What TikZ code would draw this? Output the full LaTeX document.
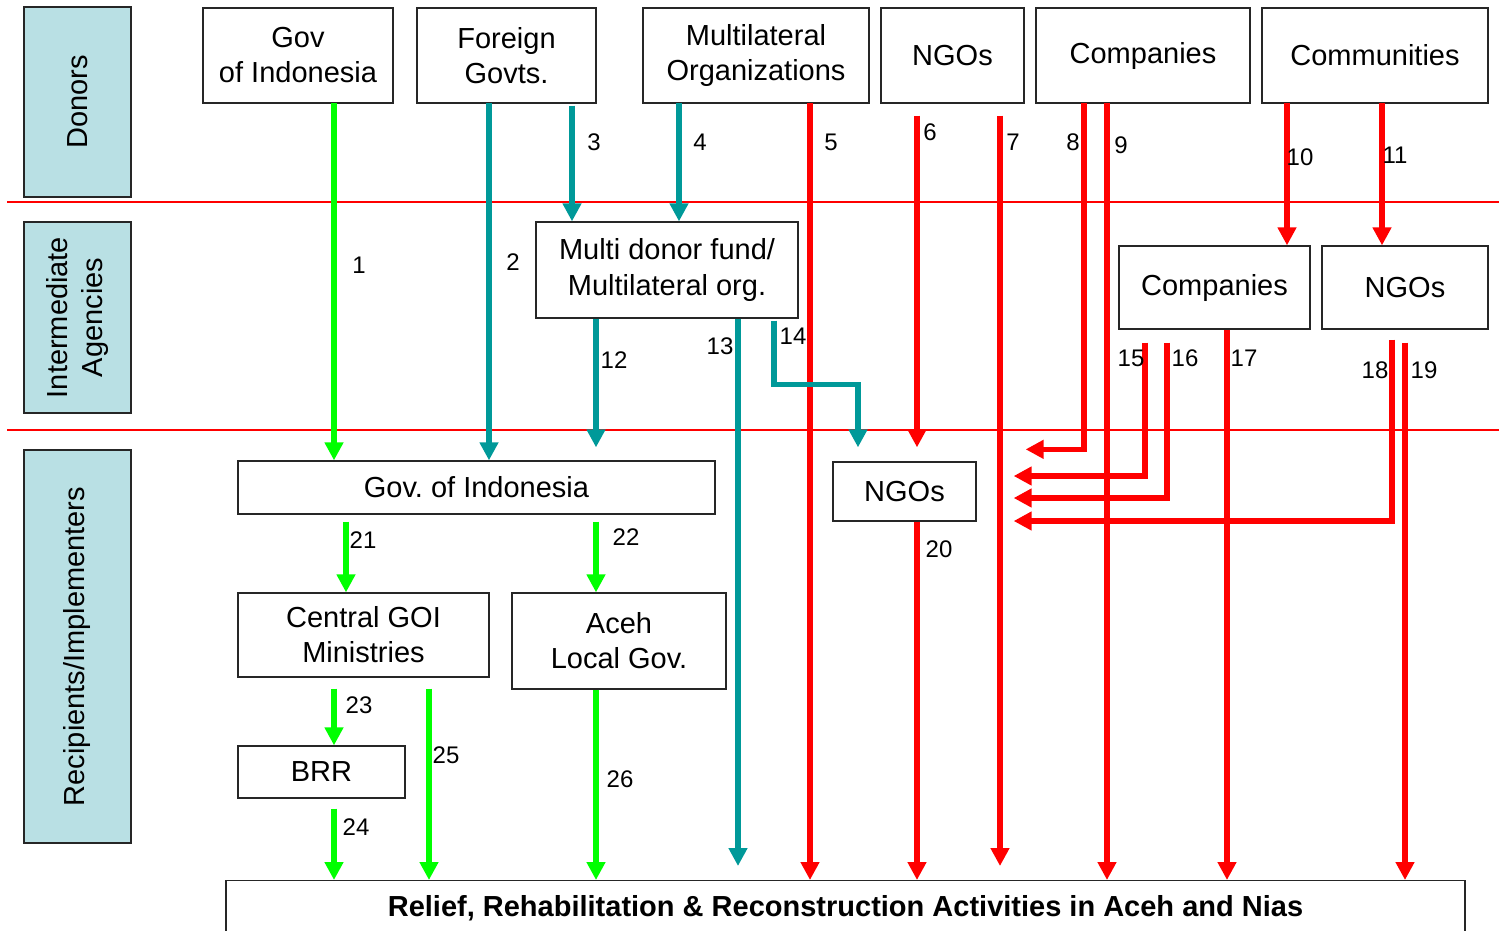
\documentclass[tikz,border=0pt]{standalone}
\usepackage{fontspec}
\setmainfont{Liberation Sans}
\usetikzlibrary{arrows.meta}
\definecolor{sideblue}{RGB}{185,224,228}
\definecolor{flowteal}{RGB}{0,153,153}
\definecolor{flowgreen}{RGB}{0,255,0}
\definecolor{flowred}{RGB}{255,0,0}
\frenchspacing
\tikzset{
  box/.style={draw=black!85, line width=1.3pt, fill=white, align=center, inner sep=0pt, font=\fontsize{29}{35}\selectfont},
  side/.style={box, fill=sideblue, rotate=90},
  flow/.style={line width=5.5pt, -{Triangle[length=18pt,width=18pt]}, line join=miter},
  gflow/.style={flow, draw=flowgreen},
  tflow/.style={flow, draw=flowteal},
  rflow/.style={flow, draw=flowred},
  num/.style={inner sep=0pt, font=\fontsize{24}{24}\selectfont},
  sep/.style={draw=flowred, line width=2.2pt},
}
\begin{document}
\begin{tikzpicture}[x=1pt, y=-1pt]
\useasboundingbox (0,0) rectangle (1499,930);

  % levels
  \draw[sep] (7,202) -- (1499,202);
  \draw[sep] (7,430) -- (1499,430);
  \node[side, minimum width=190pt, minimum height=107pt] (donors) at (77.5,102) {Donors}; %
  \node[side, minimum width=191pt, minimum height=107pt] (inter) at (77.5,317.5) {Intermediate\\Agencies}; %
  \node[side, minimum width=393pt, minimum height=107pt] (recip) at (77.5,646.5) {Recipients/Implementers}; %

  % donors
  \node[box, minimum width=190pt, minimum height=95pt] (dGov)     at (298,55.5)   {Gov\\of Indonesia}; %
  \node[box, minimum width=179pt, minimum height=95pt] (dForeign) at (506.5,55.5) {Foreign\\Govts.}; %
  \node[box, minimum width=226pt, minimum height=95pt] (dMulti)   at (756,55.5)   {Multilateral\\Organizations}; %
  \node[box, minimum width=143pt, minimum height=95pt] (dNGO)     at (952.5,55.5) {NGOs}; %
  \node[box, minimum width=214pt, minimum height=95pt] (dComp)    at (1143,55.5)  {Companies}; %
  \node[box, minimum width=226pt, minimum height=95pt] (dComm)    at (1375,55.5)  {Communities}; %

  % intermediate agencies
  \node[box, minimum width=262pt, minimum height=96pt, font=\fontsize{29}{36}\selectfont] (iFund) at (667,270) {Multi donor fund/\\Multilateral org.}; %
  \node[box, minimum width=191pt, minimum height=83pt] (iComp) at (1214.5,287.5) {Companies}; %
  \node[box, minimum width=166pt, minimum height=83pt] (iNGO)  at (1405,287.5)   {NGOs}; %

  % recipients
  \node[box, minimum width=477pt, minimum height=53pt] (rGov)     at (476.5,487.5) {Gov. of Indonesia}; %
  \node[box, minimum width=143pt, minimum height=59pt] (rNGO)     at (904.5,491.5) {NGOs}; %
  \node[box, minimum width=251pt, minimum height=84pt] (rCentral) at (363.5,635)   {Central GOI\\Ministries}; %
  \node[box, minimum width=214pt, minimum height=96pt] (rAceh)    at (619,641)     {Aceh\\Local Gov.}; %
  \node[box, minimum width=167pt, minimum height=52pt] (rBRR)     at (321.5,772)   {BRR}; %
  \node[box, anchor=north, minimum width=1239pt, minimum height=56pt,
        font=\fontsize{29}{32}\selectfont\bfseries] (act) at (845.5,880)
        {Relief, Rehabilitation \& Reconstruction Activities in Aceh and Nias}; %

  % flows from donors
  \draw[gflow] ([xshift=36pt,yshift=1pt]dGov.south) -- ([xshift=-142.5pt]rGov.north); %
  \draw[tflow] ([xshift=-17.5pt,yshift=1pt]dForeign.south) -- ([xshift=12.5pt]rGov.north); %
  \draw[tflow] ([xshift=65.5pt,yshift=-2pt]dForeign.south) -- ([xshift=-95pt]iFund.north); %
  \draw[tflow] ([xshift=-77pt,yshift=1pt]dMulti.south) -- ([xshift=12pt]iFund.north); %
  \draw[rflow] ([xshift=54pt,yshift=1pt]dMulti.south) -- ([xshift=-35.5pt]act.north); %
  \draw[rflow] ([xshift=-35.5pt,yshift=-12pt]dNGO.south) -- ([xshift=12.5pt,yshift=14pt]rNGO.north); %
  \draw[rflow] ([xshift=47.5pt,yshift=-12pt]dNGO.south) -- ([xshift=154.5pt,yshift=14pt]act.north); %
  \draw[rflow] ([xshift=-59pt,yshift=1pt]dComp.south) |- ([xshift=49pt,yshift=12pt]rNGO.north east); %
  \draw[rflow] ([xshift=-36pt,yshift=1pt]dComp.south) -- ([xshift=261.5pt]act.north); %
  \draw[rflow] ([xshift=-88pt,yshift=1pt]dComm.south) -- ([xshift=72.5pt]iComp.north); %
  \draw[rflow] ([xshift=7pt,yshift=1pt]dComm.south) -- ([xshift=-23pt]iNGO.north); %

  % flows from intermediate agencies
  \draw[tflow] ([xshift=-71pt]iFund.south) -- ([xshift=119.5pt,yshift=13pt]rGov.north); %
  \draw[tflow] ([xshift=71pt]iFund.south) -- ([xshift=-107.5pt,yshift=14pt]act.north); %
  \draw[tflow] ([xshift=107pt,yshift=-2pt]iFund.south) -- ++(0,64) -| ([xshift=-46.5pt,yshift=14pt]rNGO.north); %
  \draw[rflow] ([xshift=-69.5pt,yshift=-13pt]iComp.south) |- ([xshift=37pt,yshift=15.5pt]rNGO.east); %
  \draw[rflow] ([xshift=-47.5pt,yshift=-13pt]iComp.south) |- ([xshift=37pt,yshift=-6.5pt]rNGO.east); %
  \draw[rflow] ([xshift=12.5pt]iComp.south) -- ([xshift=381.5pt]act.north); %
  \draw[rflow] ([xshift=-13pt,yshift=-10pt]iNGO.south) |- ([xshift=37pt,yshift=-29.5pt]rNGO.east); %
  \draw[rflow] ([yshift=-13pt]iNGO.south) -- ([xshift=559.5pt]act.north); %

  % flows from recipients
  \draw[rflow] ([xshift=12.5pt]rNGO.south) -- ([xshift=71.5pt]act.north); %
  \draw[gflow] ([xshift=-130.5pt,yshift=-7pt]rGov.south) -- ([xshift=-17.5pt]rCentral.north); %
  \draw[gflow] ([xshift=119.5pt,yshift=-7pt]rGov.south) -- ([xshift=-23pt]rAceh.north); %
  \draw[gflow] ([xshift=-29.5pt,yshift=-11pt]rCentral.south) -- ([xshift=12.5pt]rBRR.north); %
  \draw[gflow] ([xshift=12.5pt,yshift=-10pt]rBRR.south) -- ([xshift=-511.5pt]act.north); %
  \draw[gflow] ([xshift=65.5pt,yshift=-11pt]rCentral.south) -- ([xshift=-416.5pt]act.north); %
  \draw[gflow] ([xshift=-23pt]rAceh.south) -- ([xshift=-249.5pt]act.north); %

  % flow numbers
  \foreach \t/\px/\py in {1/359/265, 2/513/262, 3/594/142, 4/700/142, 5/831/142,
      6/930/132, 7/1013/142, 8/1073/142, 9/1121/145, 10/1300/157, 11/1395/155,
      12/614/360, 13/720/346, 14/793/336, 15/1131/358, 16/1185/358, 17/1244/358,
      18/1375/370, 19/1424/370, 20/939/549, 21/363/540, 22/626/537, 23/359/705,
      24/356/827, 25/446/755, 26/620/779}
    \node[num] (n\t) at (\px,\py) {\t}; %

\end{tikzpicture}
\end{document}
